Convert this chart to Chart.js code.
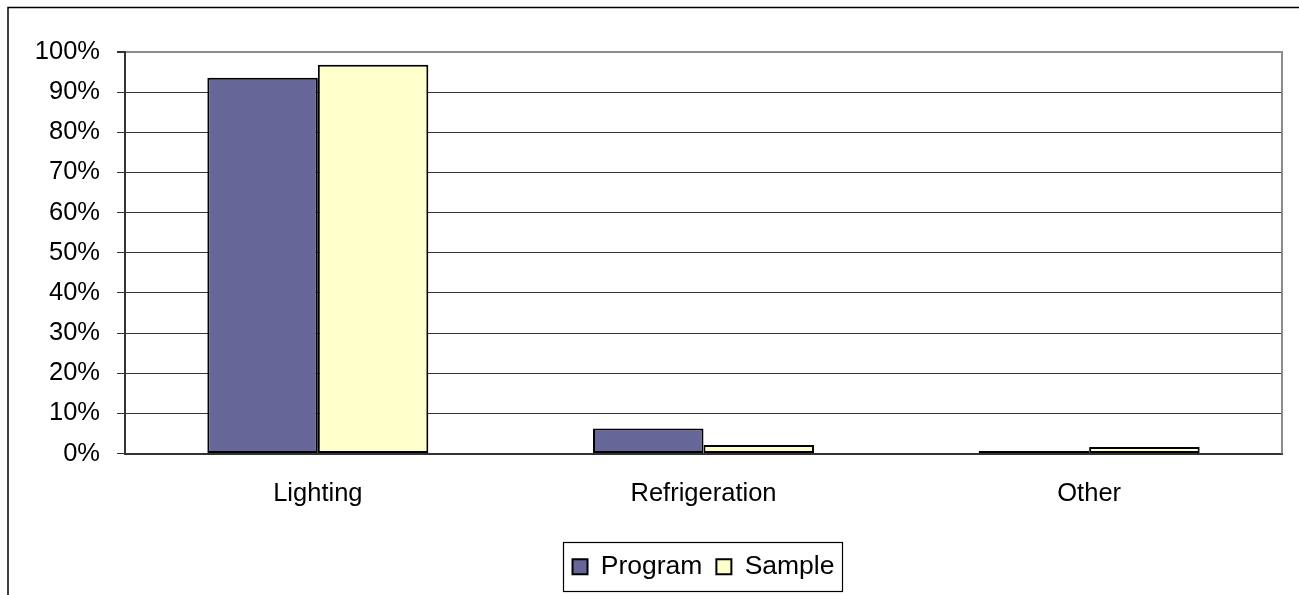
<!DOCTYPE html>
<html>
<head>
<meta charset="utf-8">
<script src="https://cdn.jsdelivr.net/npm/chart.js@4.4.1/dist/chart.umd.min.js"></script>
<style>
  html, body { margin: 0; padding: 0; background: #ffffff; }
  #wrap { width: 1299px; height: 595px; position: relative; }
</style>
</head>
<body>
<div id="wrap"><canvas id="chart" width="1299" height="595"></canvas></div>
<script>
// End-use shares (percent of total)
const categories = ['Lighting', 'Refrigeration', 'Other'];
const programShare = [93.6, 6.2, 0.6];
const sampleShare = [96.8, 2.1, 1.6];
const seriesNames = ['Program', 'Sample'];
const yTicks = [0, 10, 20, 30, 40, 50, 60, 70, 80, 90, 100];

const FONT = "'Liberation Sans', Arial, sans-serif";
const FS = 25.5;
const LEGEND_FS = 26.5;

// Outer frame, plot border and a box around the legend
const framePlugin = {
  id: 'frames',
  afterDraw(chart) {
    const ctx = chart.ctx;
    const a = chart.chartArea;
    ctx.save();
    // outer frame (top and left edges)
    ctx.strokeStyle = '#000000';
    ctx.lineWidth = 1.5;
    ctx.beginPath();
    ctx.moveTo(8, 595);
    ctx.lineTo(8, 7.5);
    ctx.lineTo(1299, 7.5);
    ctx.stroke();
    // plot area right edge
    ctx.strokeStyle = '#8c8c8c';
    ctx.lineWidth = 2;
    ctx.beginPath();
    ctx.moveTo(a.right, a.top - 1);
    ctx.lineTo(a.right, a.bottom);
    ctx.stroke();
    // legend box
    const hb = chart.legend.legendHitBoxes;
    if (hb && hb.length) {
      const first = hb[0], last = hb[hb.length - 1];
      const cy = first.top + first.height / 2;
      const x0 = Math.round(first.left - 10) + 0.5;
      const x1 = Math.round(last.left + last.width + 8) + 0.5;
      ctx.strokeStyle = '#000000';
      ctx.lineWidth = 1.2;
      ctx.strokeRect(x0, Math.round(cy - 24.5) + 0.5, x1 - x0, 49);
    }
    ctx.restore();
  }
};

new Chart(document.getElementById('chart'), {
  type: 'bar',
  data: {
    labels: categories,
    datasets: [
      {
        label: seriesNames[0],
        data: programShare,
        backgroundColor: '#666699',
        borderColor: '#000000',
        borderWidth: 2,
        borderSkipped: false
      },
      {
        label: seriesNames[1],
        data: sampleShare,
        backgroundColor: '#FFFFCC',
        borderColor: '#000000',
        borderWidth: 2,
        borderSkipped: false
      }
    ]
  },
  options: {
    responsive: false,
    animation: false,
    devicePixelRatio: 1,
    layout: { padding: { top: 52, right: 17, left: 0, bottom: 5 } },
    datasets: { bar: { categoryPercentage: 0.573, barPercentage: 1.0 } },
    scales: {
      x: {
        grid: { display: false, drawTicks: false },
        border: { display: true, color: '#333333', width: 2 },
        ticks: { color: '#000000', font: { family: FONT, size: FS }, padding: 25, maxRotation: 0 },
        afterFit(scale) { scale.height = 86; }
      },
      y: {
        min: 0,
        max: 100,
        afterBuildTicks(scale) { scale.ticks = yTicks.map(v => ({ value: v })); },
        ticks: {
          color: '#000000',
          font: { family: FONT, size: FS },
          padding: 17,
          callback: v => v + '%'
        },
        grid: {
          color: ctx => (ctx.tick && ctx.tick.value === 100 ? '#8c8c8c' : '#333333'),
          lineWidth: ctx => (ctx.tick && ctx.tick.value === 100 ? 2 : 1),
          tickColor: '#333333',
          tickLength: 8,
          drawTicks: true
        },
        border: { display: true, color: '#333333', width: 2 },
        afterFit(scale) { scale.width = 125; }
      }
    },
    plugins: {
      legend: {
        position: 'bottom',
        fullSize: false,
        labels: {
          color: '#000000',
          font: { family: FONT, size: LEGEND_FS },
          boxWidth: 15,
          boxHeight: 15,
          padding: 14
        }
      },
      tooltip: { enabled: false },
      title: { display: false }
    }
  },
  plugins: [framePlugin]
});
</script>
</body>
</html>
